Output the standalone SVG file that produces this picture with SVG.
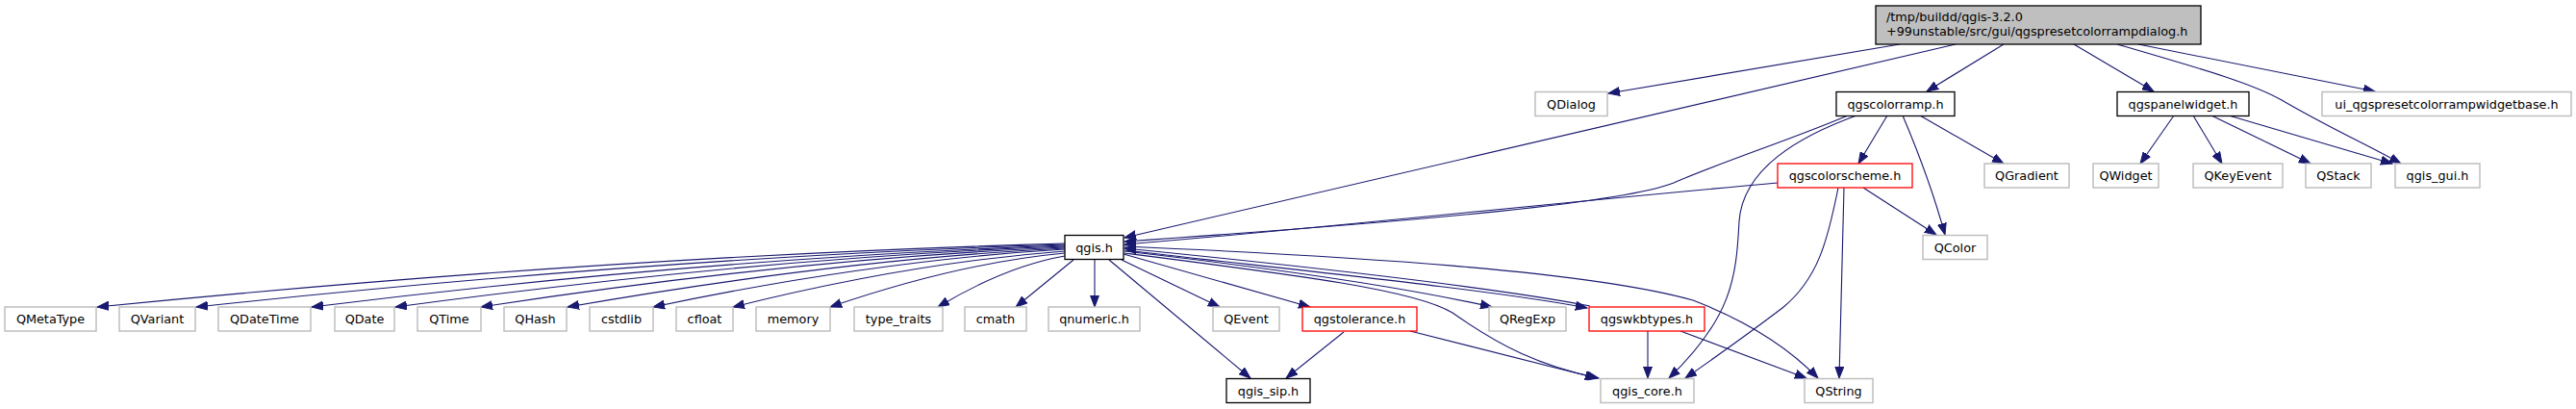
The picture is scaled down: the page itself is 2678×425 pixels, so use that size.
<svg xmlns="http://www.w3.org/2000/svg" width="2678" height="425" viewBox="0 0 2678 425">
<style>
text{font-family:"DejaVu Sans","Liberation Sans",sans-serif;font-size:12.8px;fill:#000}
.c{text-anchor:middle}
.g rect{fill:#fff;stroke:#bfbfbf;stroke-width:1.5}
.b rect{fill:#fff;stroke:#000;stroke-width:1.3}
.r rect{fill:#fff;stroke:#ff0000;stroke-width:1.3}
.root rect{fill:#bfbfbf;stroke:#000;stroke-width:1.3}
#edges path{fill:none;stroke:#191970;stroke-width:1.1;marker-end:url(#ah)}
</style>
<defs>
<marker id="ah" markerUnits="userSpaceOnUse" markerWidth="13" markerHeight="10" refX="12" refY="5" orient="auto">
<path d="M0,0.5 L12,5 L0,9.5 z" fill="#191970" stroke="#191970" stroke-width="1"/>
</marker>
</defs>
<rect width="2678" height="425" fill="#fff"/>
<g id="edges">
<path d="M1975,46 L1672,97"/>
<path d="M2033,46 L1169,247"/>
<path d="M2083,46 L2003,95"/>
<path d="M2156,46 L2239,95"/>
<path d="M2201,46 C2290,72 2340,86 2372,104 C2420,132 2460,150 2496,170"/>
<path d="M2223,46 L2469,95"/>
<path d="M2260,120 L2225,170"/>
<path d="M2280,120 L2310,170"/>
<path d="M2299,120 L2402,170"/>
<path d="M2317,120 L2487,170"/>
<path d="M1921,120 C1870,142 1780,172 1740,190 C1690,210 1500,228 1169,251"/>
<path d="M1930,120 C1870,142 1812,175 1808,230 C1805,290 1800,330 1735,393"/>
<path d="M1962,120 L1932,170"/>
<path d="M1978,120 C1995,160 2010,200 2022,244"/>
<path d="M1996,120 L2083,170"/>
<path d="M1848,190 C1600,212 1400,235 1169,254"/>
<path d="M1911,195 C1900,250 1890,290 1853,320 C1820,345 1785,370 1752,393"/>
<path d="M1917,195 L1912,393"/>
<path d="M1937,195 L2013,244"/>
<path d="M1107,253 C755,263 403,289 101,319"/>
<path d="M1107,254 C791,264 475,290 204,319"/>
<path d="M1107,255 C833,265 559,290 324,319"/>
<path d="M1107,256 C863,265 620,291 411,319"/>
<path d="M1107,257 C895,266 682,291 500,319"/>
<path d="M1107,258 C926,267 745,292 590,319"/>
<path d="M1107,259 C957,268 807,292 679,319"/>
<path d="M1107,261 C986,270 866,293 762,319"/>
<path d="M1107,263 C1022,271 936,294 863,319"/>
<path d="M1107,266 C1061,274 1015,295 975,319"/>
<path d="M1116,270 L1056,319"/>
<path d="M1138,270 L1138,319"/>
<path d="M1166,270 L1268,319"/>
<path d="M1168,264 L1362,319"/>
<path d="M1153,270 L1300,393"/>
<path d="M1169,261 C1300,276 1450,296 1551,319"/>
<path d="M1169,260 C1350,281 1550,301 1650,320"/>
<path d="M1653,318 C1550,298 1350,276 1169,258"/>
<path d="M1169,263 C1350,286 1470,301 1510,325 C1560,360 1600,380 1662,393"/>
<path d="M1169,256 C1400,266 1650,281 1760,312 C1820,335 1860,362 1890,393"/>
<path d="M1397,345 L1337,393"/>
<path d="M1466,344 L1660,393"/>
<path d="M1713,344 L1713,393"/>
<path d="M1747,344 L1878,393"/>
</g>
<g id="root" class="root"><rect x="1950" y="6" width="338" height="40"/><text x="1961" y="22">/tmp/buildd/qgis-3.2.0</text><text x="1961" y="37">+99unstable/src/gui/qgspresetcolorrampdialog.h</text></g>
<g id="n_QDialog" class="g"><rect x="1596" y="95.5" width="75" height="25"/><text class="c" x="1633.5" y="112.5">QDialog</text></g>
<g id="n_qgscolorramp" class="b"><rect x="1909" y="95.5" width="123" height="25"/><text class="c" x="1970.5" y="112.5">qgscolorramp.h</text></g>
<g id="n_qgspanelwidget" class="b"><rect x="2201" y="95.5" width="137" height="25"/><text class="c" x="2269.5" y="112.5">qgspanelwidget.h</text></g>
<g id="n_ui" class="g"><rect x="2414" y="95.5" width="259" height="25"/><text class="c" x="2543.5" y="112.5">ui_qgspresetcolorrampwidgetbase.h</text></g>
<g id="n_qgscolorscheme" class="r"><rect x="1848" y="170" width="140" height="25"/><text class="c" x="1918" y="187">qgscolorscheme.h</text></g>
<g id="n_QGradient" class="g"><rect x="2063" y="170" width="88" height="25"/><text class="c" x="2107" y="187">QGradient</text></g>
<g id="n_QWidget" class="g"><rect x="2176" y="170" width="68" height="25"/><text class="c" x="2210" y="187">QWidget</text></g>
<g id="n_QKeyEvent" class="g"><rect x="2280" y="170" width="93" height="25"/><text class="c" x="2326.5" y="187">QKeyEvent</text></g>
<g id="n_QStack" class="g"><rect x="2397" y="170" width="68" height="25"/><text class="c" x="2431" y="187">QStack</text></g>
<g id="n_qgis_gui" class="g"><rect x="2490" y="170" width="88" height="25"/><text class="c" x="2534" y="187">qgis_gui.h</text></g>
<g id="n_qgis" class="b"><rect x="1107" y="244.5" width="61" height="25"/><text class="c" x="1137.5" y="261.5">qgis.h</text></g>
<g id="n_QColor" class="g"><rect x="1999" y="244.5" width="67" height="25"/><text class="c" x="2032.5" y="261.5">QColor</text></g>
<g id="n_QMetaType" class="g"><rect x="5" y="319" width="95" height="25"/><text class="c" x="52.5" y="336">QMetaType</text></g>
<g id="n_QVariant" class="g"><rect x="124" y="319" width="79" height="25"/><text class="c" x="163.5" y="336">QVariant</text></g>
<g id="n_QDateTime" class="g"><rect x="227" y="319" width="96" height="25"/><text class="c" x="275" y="336">QDateTime</text></g>
<g id="n_QDate" class="g"><rect x="348" y="319" width="62" height="25"/><text class="c" x="379" y="336">QDate</text></g>
<g id="n_QTime" class="g"><rect x="434" y="319" width="66" height="25"/><text class="c" x="467" y="336">QTime</text></g>
<g id="n_QHash" class="g"><rect x="524" y="319" width="65" height="25"/><text class="c" x="556.5" y="336">QHash</text></g>
<g id="n_cstdlib" class="g"><rect x="613" y="319" width="66" height="25"/><text class="c" x="646" y="336">cstdlib</text></g>
<g id="n_cfloat" class="g"><rect x="703" y="319" width="59" height="25"/><text class="c" x="732.5" y="336">cfloat</text></g>
<g id="n_memory" class="g"><rect x="786" y="319" width="77" height="25"/><text class="c" x="824.5" y="336">memory</text></g>
<g id="n_type_traits" class="g"><rect x="888" y="319" width="92" height="25"/><text class="c" x="934" y="336">type_traits</text></g>
<g id="n_cmath" class="g"><rect x="1003" y="319" width="64" height="25"/><text class="c" x="1035" y="336">cmath</text></g>
<g id="n_qnumeric" class="g"><rect x="1090" y="319" width="95" height="25"/><text class="c" x="1137.5" y="336">qnumeric.h</text></g>
<g id="n_QEvent" class="g"><rect x="1261" y="319" width="69" height="25"/><text class="c" x="1295.5" y="336">QEvent</text></g>
<g id="n_qgstolerance" class="r"><rect x="1354" y="319" width="119" height="25"/><text class="c" x="1413.5" y="336">qgstolerance.h</text></g>
<g id="n_QRegExp" class="g"><rect x="1548" y="319" width="80" height="25"/><text class="c" x="1588" y="336">QRegExp</text></g>
<g id="n_qgswkbtypes" class="r"><rect x="1652" y="319" width="120" height="25"/><text class="c" x="1712" y="336">qgswkbtypes.h</text></g>
<g id="n_qgis_sip" class="b"><rect x="1275" y="393.5" width="87" height="25"/><text class="c" x="1318.5" y="410.5">qgis_sip.h</text></g>
<g id="n_qgis_core" class="g"><rect x="1664" y="393.5" width="97" height="25"/><text class="c" x="1712.5" y="410.5">qgis_core.h</text></g>
<g id="n_QString" class="g"><rect x="1876" y="393.5" width="71" height="25"/><text class="c" x="1911.5" y="410.5">QString</text></g>
</svg>
